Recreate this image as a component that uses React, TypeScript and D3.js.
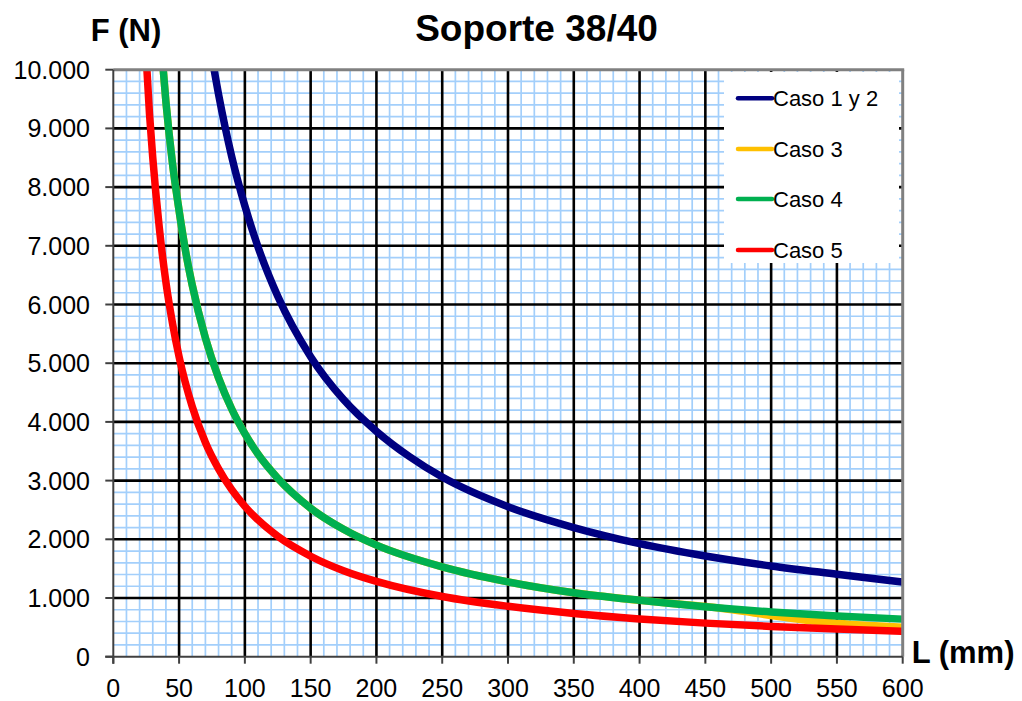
import React from "react";
import * as d3 from "d3";

const TITLE = "Soporte 38/40";
const Y_TITLE = "F (N)";
const X_TITLE = "L (mm)";

const X_TICKS = [0, 50, 100, 150, 200, 250, 300, 350, 400, 450, 500, 550, 600];
const Y_TICKS = [0, 1000, 2000, 3000, 4000, 5000, 6000, 7000, 8000, 9000, 10000];
const Y_TICK_LABELS = ["0", "1.000", "2.000", "3.000", "4.000", "5.000", "6.000", "7.000", "8.000", "9.000", "10.000"];

const SERIES_NAMES = ["Caso 1 y 2", "Caso 3", "Caso 4", "Caso 5"];
const SERIES_COLORS = ["#000080", "#FFC000", "#00B050", "#FF0000"];

const L_CASO12 = [75, 80, 90, 100, 110, 125, 150, 175, 200, 225, 250, 300, 350, 400, 450, 500, 550, 600];
const F_CASO12 = [10200, 9580, 8520, 7680, 6980, 6140, 5110, 4380, 3840, 3410, 3060, 2555, 2200, 1925, 1715, 1545, 1405, 1270];

const L_CASO3 = [35, 40, 45, 50, 55, 60, 70, 80, 90, 100, 110, 125, 150, 175, 200, 250, 300, 350, 400, 440, 460, 480, 500, 525, 550, 575, 600];
const F_CASO3 = [10800, 9450, 8400, 7600, 6900, 6330, 5430, 4750, 4220, 3800, 3450, 3040, 2530, 2170, 1900, 1530, 1275, 1090, 960, 875, 830, 770, 700, 625, 570, 530, 500];

const L_CASO4 = [35, 40, 45, 50, 55, 60, 70, 80, 90, 100, 110, 125, 150, 175, 200, 250, 300, 350, 400, 450, 500, 550, 600];
const F_CASO4 = [10800, 9450, 8400, 7600, 6900, 6330, 5430, 4750, 4220, 3800, 3450, 3040, 2530, 2170, 1900, 1530, 1275, 1090, 960, 850, 762, 695, 640];

const L_CASO5 = [24, 27.5, 30, 35, 40, 45, 50, 60, 70, 80, 90, 100, 125, 150, 175, 200, 250, 300, 350, 400, 450, 500, 550, 600];
const F_CASO5 = [10600, 9250, 8500, 7300, 6380, 5680, 5110, 4260, 3650, 3200, 2845, 2560, 2050, 1712, 1465, 1283, 1025, 858, 735, 643, 572, 515, 470, 433];

const SERIES_L = [L_CASO12, L_CASO3, L_CASO4, L_CASO5];
const SERIES_F = [F_CASO12, F_CASO3, F_CASO4, F_CASO5];

const MINOR_X = d3.range(0, 601, 10);
const MINOR_Y = d3.range(0, 10001, 200);

export default function App() {
  const W = 1022;
  const H = 701;
  const left = 113.3, right = 902.7, top = 69.7, bottom = 656.7;
  const x = d3.scaleLinear().domain([0, 600]).range([left, right]);
  const y = d3.scaleLinear().domain([0, 10000]).range([bottom, top]);
  const font = "'Liberation Sans', Arial, Helvetica, sans-serif";

  const line = d3
    .line<[number, number]>()
    .x((d) => x(d[0]))
    .y((d) => y(d[1]))
    .curve(d3.curveMonotoneX);

  const legendRows = [98.3, 149, 199, 250];

  return (
    <svg
      width={W}
      height={H}
      style={{ position: "absolute", left: 0, top: 0, background: "#fff" }}
      fontFamily={font}
    >
      <defs>
        <clipPath id="plotClip">
          <rect x={left} y={top} width={right - left} height={bottom - top} />
        </clipPath>
      </defs>
      <rect x={0} y={0} width={W} height={H} fill="#fff" />
      {/* minor grid */}
      <g stroke="#A3CFFB" strokeWidth={1.7}>
        {MINOR_X.filter((v) => v % 50 !== 0).map((v) => (
          <line key={"mx" + v} x1={x(v)} x2={x(v)} y1={top} y2={bottom} />
        ))}
        {MINOR_Y.filter((v) => v % 1000 !== 0).map((v) => (
          <line key={"my" + v} x1={left} x2={right} y1={y(v)} y2={y(v)} />
        ))}
      </g>
      {/* major grid */}
      <g stroke="#000" strokeWidth={2.6}>
        {X_TICKS.filter((v) => v !== 0 && v !== 600).map((v) => (
          <line key={"Mx" + v} x1={x(v)} x2={x(v)} y1={top} y2={bottom} />
        ))}
        {Y_TICKS.filter((v) => v !== 0 && v !== 10000).map((v) => (
          <line key={"My" + v} x1={left} x2={right} y1={y(v)} y2={y(v)} />
        ))}
      </g>
      {/* curves */}
      <g clipPath="url(#plotClip)" fill="none" strokeWidth={7.5} strokeLinejoin="round">
        {SERIES_NAMES.map((name, i) => (
          <path
            key={name}
            d={line(SERIES_L[i].map((l, j) => [l, SERIES_F[i][j]] as [number, number])) || ""}
            stroke={SERIES_COLORS[i]}
          />
        ))}
      </g>
      {/* frame */}
      <line x1={left} x2={right + 1.5} y1={top} y2={top} stroke="#808080" strokeWidth={3} />
      <line x1={right} x2={right} y1={top} y2={bottom} stroke="#808080" strokeWidth={3} />
      <line x1={left} x2={left} y1={top} y2={bottom + 7} stroke="#404040" strokeWidth={2} />
      <line x1={left - 8} x2={right} y1={bottom} y2={bottom} stroke="#404040" strokeWidth={2} />
      {/* ticks */}
      <g stroke="#404040" strokeWidth={2}>
        {Y_TICKS.map((v) => (
          <line key={"ty" + v} x1={left - 8} x2={left} y1={y(v)} y2={y(v)} />
        ))}
        {X_TICKS.map((v) => (
          <line key={"tx" + v} x1={x(v)} x2={x(v)} y1={bottom} y2={bottom + 7} />
        ))}
      </g>
      {/* tick labels */}
      <g fontSize={25} fill="#000">
        {Y_TICKS.map((v, i) => (
          <text key={"ly" + v} x={90} y={y(v) + 9} textAnchor="end">
            {Y_TICK_LABELS[i]}
          </text>
        ))}
        {X_TICKS.map((v) => (
          <text key={"lx" + v} x={x(v)} y={697} textAnchor="middle">
            {v}
          </text>
        ))}
      </g>
      {/* legend */}
      <rect x={724} y={72} width={175} height={191} fill="#fff" />
      {SERIES_NAMES.map((name, i) => (
        <g key={"leg" + name}>
          <line
            x1={738}
            x2={772}
            y1={legendRows[i]}
            y2={legendRows[i]}
            stroke={SERIES_COLORS[i]}
            strokeWidth={4.5}
            strokeLinecap="round"
          />
          <text x={773} y={legendRows[i] + 7.8} fontSize={22} fill="#000">
            {name}
          </text>
        </g>
      ))}
      {/* titles */}
      <text x={536.5} y={40.5} textAnchor="middle" fontSize={37} fontWeight="bold">
        {TITLE}
      </text>
      <text x={90.7} y={40.7} fontSize={31} fontWeight="bold">
        {Y_TITLE}
      </text>
      <text x={911.7} y={663.3} fontSize={31} fontWeight="bold">
        {X_TITLE}
      </text>
    </svg>
  );
}
